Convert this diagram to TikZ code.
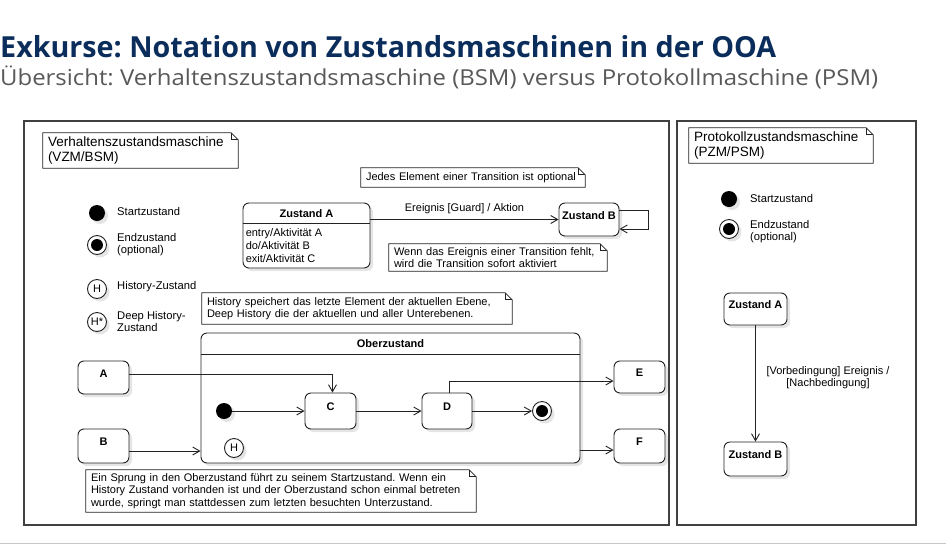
\documentclass[tikz,border=0pt]{standalone}
\usepackage{fontspec}
\usepackage{graphicx}
\setmainfont{Liberation Sans}
\newfontfamily\titlefont{Open Sans}
\frenchspacing
\usetikzlibrary{arrows.meta,shadows,calc}
\definecolor{titleblue}{HTML}{0B2D5B}
\definecolor{subgray}{HTML}{595959}
\definecolor{lncol}{HTML}{222222}
\tikzset{
  strk/.style={draw=lncol, line width=0.9pt},
  shad/.style={drop shadow={shadow xshift=3pt, shadow yshift=-3pt, fill=black, opacity=0.1}},
  statebox/.style={strk, rounded corners=6pt, fill=white, shad, inner sep=0pt, font=\fontsize{11}{13}\selectfont\bfseries, text height=7pt, text depth=7.5pt},
  startdot/.style={circle, fill=black, minimum size=16pt, inner sep=0pt, shad},
  enddot/.style={circle, strk, fill=white, minimum size=19pt, inner sep=0pt, shad, path picture={\fill[black] (path picture bounding box.center) circle (6pt);}},
  histdot/.style={circle, strk, fill=white, minimum size=19pt, inner sep=0pt, shad, font=\fontsize{11}{13}\selectfont},
  legend/.style={anchor=west, inner sep=0pt, align=left, font=\fontsize{11.2}{12}\selectfont},
  notebox/.style={inner xsep=5pt, inner ysep=0pt, align=left, font=\fontsize{11}{12.5}\selectfont},
  bignote/.style={notebox, font=\fontsize{13.5}{14.5}\selectfont},
  trans/.style={strk, -{Straight Barb[length=7pt,width=8pt]}},
  panel/.style={draw=black!75, line width=1.1pt},
}
\begin{document}
\begin{tikzpicture}[x=1pt, y=-1pt]
\fill[white] (0,0) rectangle (946,555);
\useasboundingbox (0,0) rectangle (946,555);

% titles
\node[anchor=base west, inner sep=0pt, text=titleblue] (title) at (0,57)
  {\resizebox{776pt}{\height}{\titlefont\bfseries\fontsize{29}{29}\selectfont Exkurse: Notation von Zustandsmaschinen in der OOA}};
\node[anchor=base west, inner sep=0pt, text=subgray] (subtitle) at (0,85)
  {\resizebox{878pt}{\height}{\titlefont\fontsize{22}{22}\selectfont Übersicht: Verhaltenszustandsmaschine (BSM) versus Protokollmaschine (PSM)}};

% panels
\draw[panel] (24,121) rectangle (669,525);
\draw[panel] (677,121) rectangle (916,525);
\draw[black!22, line width=1pt] (0,543) -- (946,543);

% notes
\node[bignote, text width=185pt, minimum height=35pt] (n1) at (140.5,150.5) {Verhaltenszustandsmaschine\\(VZM/BSM)};
\node[notebox, text width=214pt, minimum height=19pt] (n2) at (473,177.5) {Jedes Element einer Transition ist optional};
\node[notebox, text width=208pt, minimum height=27pt] (n3) at (498,257.5) {Wenn das Ereignis einer Transition fehlt,\\wird die Transition sofort aktiviert};
\node[notebox, text width=300pt, minimum height=31pt] (n4) at (357,308.5) {History speichert das letzte Element der aktuellen Ebene,\\Deep History die der aktuellen und aller Unterebenen.};
\node[notebox, text width=380pt, minimum height=42pt] (n5) at (281,491) {Ein Sprung in den Oberzustand führt zu seinem Startzustand. Wenn ein\\History Zustand vorhanden ist und der Oberzustand schon einmal betreten\\wurde, springt man stattdessen zum letzten besuchten Unterzustand.};
\node[bignote, text width=174pt, minimum height=35pt] (n6) at (781,145.5) {Protokollzustandsmaschine\\(PZM/PSM)};
\foreach \n in {n1,n2,n3,n4,n5,n6}{
  \draw[strk, line width=0.8pt] (\n.north west) -- ([xshift=-7pt]\n.north east) -- ([yshift=-7pt]\n.north east) -- (\n.south east) -- (\n.south west) -- cycle;
  \draw[strk, line width=0.8pt] ([xshift=-7pt]\n.north east) |- ([yshift=-7pt]\n.north east);
}

% legend left
\node[startdot] (ls) at (97,213) {};
\node[legend] (lst) at (117,211) {Startzustand};
\node[enddot] (le) at (97,245) {};
\node[legend] (let) at (117,245) {Endzustand\\(optional)};
\node[histdot] (lh) at (97,289) {H};
\node[legend] (lht) at (117,287) {History-Zustand};
\node[histdot] (ldh) at (97,322) {H*};
\node[legend] (ldht) at (117,321) {Deep History-\\Zustand};

% Zustand A / B
\node[statebox, minimum width=127pt, minimum height=65pt] (za) at (306.5,235.5) {};
\draw[strk] ([yshift=-21pt]za.north west) -- ([yshift=-21pt]za.north east);
\node[font=\fontsize{11}{13}\selectfont\bfseries, inner sep=0pt] (zat) at ([yshift=-11pt]za.north) {Zustand A};
\node[anchor=north west, align=left, inner sep=2pt, font=\fontsize{11}{13}\selectfont] (zab) at ([xshift=1pt,yshift=-24pt]za.north west) {entry/Aktivität A\\do/Aktivität B\\exit/Aktivität C};
\node[statebox, minimum width=60pt, minimum height=33pt] (zb) at (589,219.5) {Zustand B};
\draw[trans] (za.east |- zb.west) -- node[above=5pt, inner sep=0pt, font=\fontsize{11}{13}\selectfont] (evl) {Ereignis [Guard] / Aktion} (zb.west);
\draw[trans] ([yshift=9.5pt]zb.east) -| ([xshift=29pt,yshift=-9.5pt]zb.east) -- ([yshift=-9.5pt]zb.east);

% Oberzustand
\node[statebox, minimum width=379pt, minimum height=130pt] (ober) at (390.5,398) {};
\draw[strk] ([yshift=-22pt]ober.north west) -- ([yshift=-22pt]ober.north east);
\node[font=\fontsize{11}{13}\selectfont\bfseries, inner sep=0pt] (obert) at ([yshift=-11.5pt]ober.north) {Oberzustand};
\node[statebox, minimum width=51pt, minimum height=36pt] (c) at (330.5,411) {C};
\node[statebox, minimum width=50pt, minimum height=36pt] (d) at (447,411) {D};
\node[startdot] (is) at (224,411) {};
\node[histdot] (ih) at (234,448) {H};
\node[enddot] (ie) at (542,411) {};
\node[statebox, minimum width=51pt, minimum height=33pt] (a) at (103.5,377.5) {A};
\node[statebox, minimum width=51pt, minimum height=34pt] (b) at (103.5,446) {B};
\node[statebox, minimum width=51pt, minimum height=32pt] (e) at (639.5,377) {E};
\node[statebox, minimum width=51pt, minimum height=34pt] (f) at (639.5,446) {F};

\coordinate (aout) at ([yshift=3.5pt]a.east);
\coordinate (bout) at ([yshift=-5pt]b.east);
\coordinate (ein) at ([yshift=-4pt]e.west);
\coordinate (fin) at ([yshift=-4pt]f.west);
\draw[trans] (aout) -| ([xshift=2pt]c.north);
\draw[trans] (bout) -- (bout -| ober.west);
\draw[trans] (is) -- (c.west);
\draw[trans] (c) -- (d);
\draw[trans] (d) -- (ie);
\draw[trans] ([xshift=2pt]d.north) |- (ein);
\draw[trans] (fin -| ober.east) -- (fin);

% right panel
\node[startdot] (rs) at (729,199) {};
\node[legend] (rst) at (750,198) {Startzustand};
\node[enddot] (re) at (729,229) {};
\node[legend] (ret) at (750,231.5) {Endzustand\\(optional)};
\node[statebox, minimum width=63pt, minimum height=32pt] (pa) at (755.5,309) {Zustand A};
\node[statebox, minimum width=63pt, minimum height=34pt] (pb) at (755.5,459) {Zustand B};
\draw[trans] (pa) -- (pb);
\node[align=center, inner sep=0pt, font=\fontsize{11}{12}\selectfont] (pl) at (828,378) {[Vorbedingung] Ereignis /\\{[Nachbedingung]}};
\end{tikzpicture}
\end{document}
